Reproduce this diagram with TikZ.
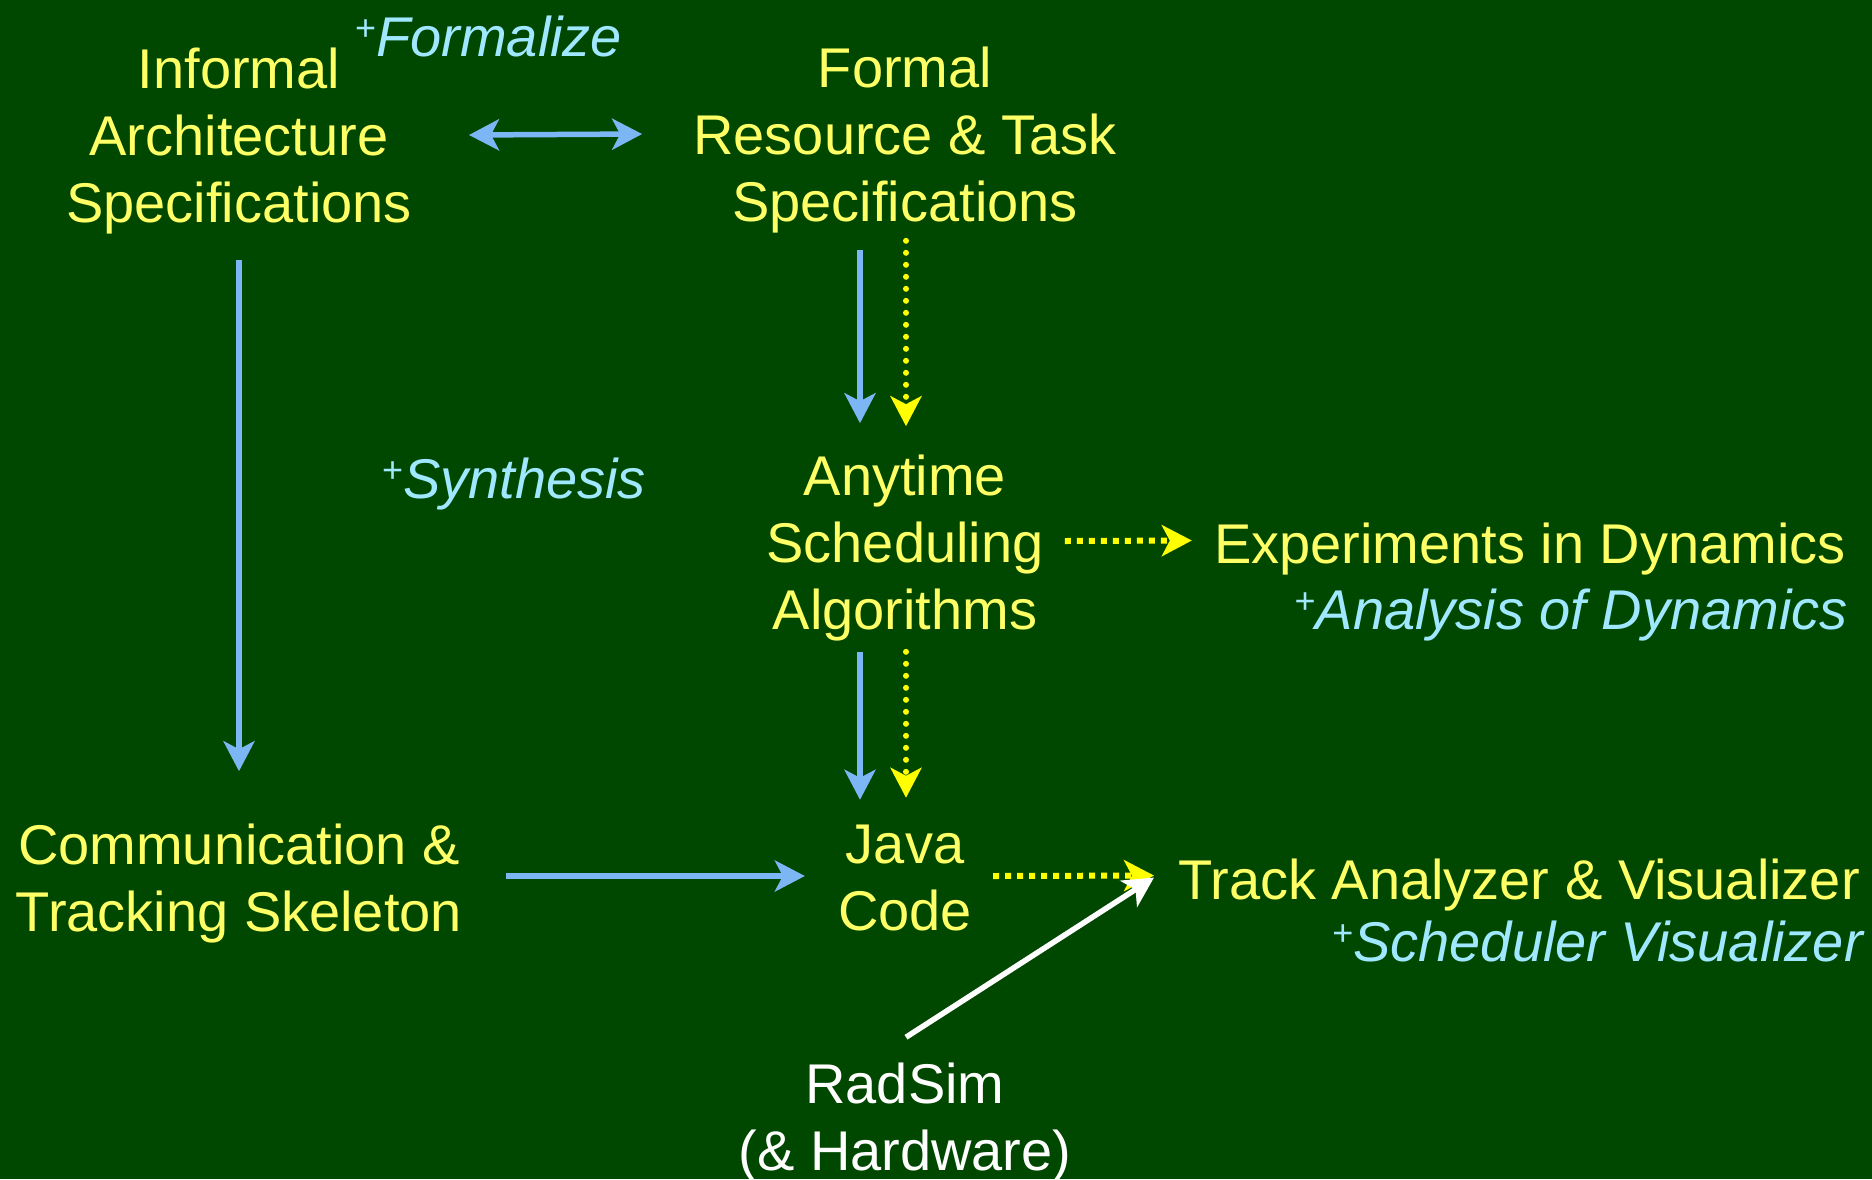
\documentclass[tikz,border=0pt]{standalone}
\usepackage{fontspec}
\setmainfont{Liberation Sans}
\usetikzlibrary{arrows.meta,calc}
\definecolor{bg}{RGB}{0,72,0}
\definecolor{txty}{RGB}{255,255,102}
\definecolor{txtc}{RGB}{160,232,255}
\definecolor{arrb}{RGB}{125,182,245}
\definecolor{arry}{RGB}{255,255,0}
\newcommand{\plusmark}{{\upshape\fontsize{36}{36}\selectfont\raisebox{16pt}{+}}}
\begin{document}
\begin{tikzpicture}[x=1pt,y=-1pt,
  lbl/.style={font=\fontsize{56}{67}\selectfont, text=txty, inner sep=0pt, align=center},
  wlbl/.style={lbl, text=white},
  note/.style={font=\fontsize{56}{67}\selectfont\itshape, text=txtc, inner sep=0pt},
  headb/.style={Stealth[length=30pt,width=31pt,inset=8pt]},
  tipb/.style={-{Stealth[length=30pt,width=31pt,inset=8pt]}},
  barrow/.style={draw=arrb, line width=5.5pt, tipb},
  bdarrow/.style={draw=arrb, line width=5.5pt, {Stealth[length=30pt,width=31pt,inset=8pt]}-{Stealth[length=30pt,width=31pt,inset=8pt]}},
  yvarrow/.style={draw=arry, line width=6pt, line cap=round, dash pattern=on 0pt off 12pt, tipb},
  yharrow/.style={draw=arry, line width=6pt, dash pattern=on 6pt off 6pt, tipb},
  warrow/.style={draw=white, line width=5.5pt, tipb}
]
\fill[bg] (0,0) rectangle (1872,1179);
\useasboundingbox (0,0) rectangle (1872,1179);

\node[lbl] (inf) at (239,141.5) {Informal\\Architecture\\Specifications};
\node[note, anchor=base west] (formalize) at (355,56) {\plusmark Formalize};
\node[lbl] (form) at (905,140.5) {Formal\\Resource \& Task\\Specifications};
\node[note, anchor=base west] (synth) at (382,498) {\plusmark Synthesis};
\node[lbl] (any) at (905,548.5) {Anytime\\Scheduling\\Algorithms};
\node[lbl, anchor=base east] (exp) at (1846,563) {Experiments in Dynamics};
\node[note, anchor=base east] (anal) at (1848,629) {\plusmark Analysis of Dynamics};
\node[lbl] (comm) at (239,884) {Communication \&\\Tracking Skeleton};
\node[lbl] (java) at (905,878) {Java\\Code};
\node[lbl, anchor=base east] (track) at (1860,899) {Track Analyzer \& Visualizer};
\node[note, anchor=base east] (sched) at (1863,961) {\plusmark Scheduler Visualizer};
\node[wlbl] (rad) at (905,1122) {RadSim\\(\& Hardware)};

\draw[bdarrow] ($(inf.east)+(57,-6.5)$) -- ($(form.west)+(-51,-6.5)$);
\draw[barrow] ($(inf.south)+(0,25)$) -- ($(comm.north)+(0,-53)$);
\draw[barrow] ($(form.south)+(-45,16)$) -- ($(any.north)+(-45,-32)$);
\draw[yvarrow] ($(form.south)+(1,7)$) -- ($(any.north)+(1,-29)$);
\draw[barrow] ($(any.south)+(-45,10)$) -- ($(java.north)+(-45,-25)$);
\draw[yvarrow] ($(any.south)+(1,10)$) -- ($(java.north)+(1,-27)$);
\draw[yharrow] ($(any.east)+(21,-7.5)$) -- ($(exp.west)+(-22,-8)$);
\draw[barrow] ($(comm.east)+(44,-8)$) -- ($(java.west)+(-33,-2)$);
\draw[yharrow] ($(java.east)+(21,-2)$) -- ($(track.west)+(-24,-9)$);
\draw[warrow] ($(rad.north)+(1,-25)$) -- ($(track.west)+(-24,-7)$);
\end{tikzpicture}
\end{document}
